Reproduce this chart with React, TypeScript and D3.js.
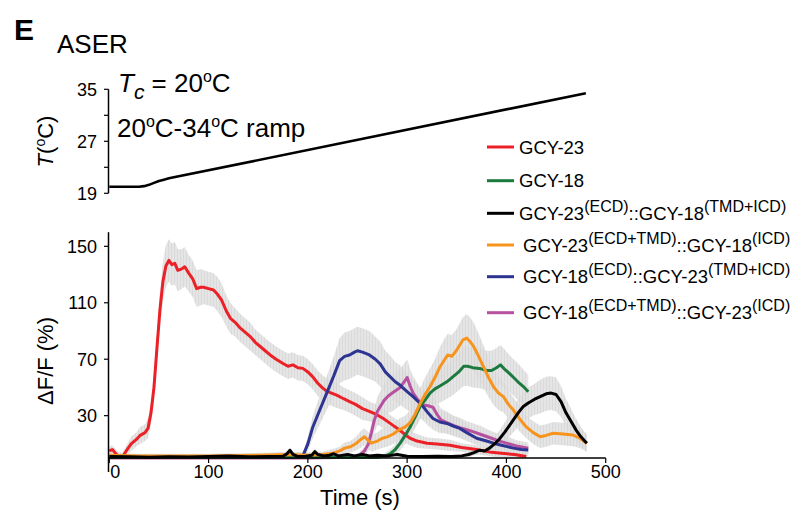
import React from "react";
import * as d3 from "d3";

// ---- data: [time (s), mean ΔF/F (%), SEM] ----
const gcy23: [number, number, number][] = [
  [0,5,3],[3,6,3],[8,2,3],[13,0.5,3],[18,6,4],[22,10,5],[27,13,5],[31,16,6],[36,18,6],[39,21,7],[42,32,8],[45,50,9],[48,78,10],[51,105,12],[54,125,14],[57,136,15],[60,140,15],[63,137,15],[66,138,15],[69,133,15],[73,134,14],[76,135.5,14],[80,131,13],[84,127,13],[88,120,13],[92,121,13],[95,121,12],[100,120,12],[105,119,12],[109,116,12],[113,112,12],[118,104,11],[122,99,11],[127,96,10],[132,92,10],[137,89,10],[142,86,10],[147,82,9],[152,79,9],[157,76,9],[162,73,9],[168,70,9],[175,67,9],[180,65,9],[185,66,9],[190,64,9],[195,63.5,9],[200,61,9],[205,57.5,9],[210,53,9],[215,49.5,9],[220,47,9],[229,44.5,9],[236,42,8],[242,40,8],[248,38,8],[255,35,8],[262,33,7],[270,30.5,7],[276,28,7],[284,24,6],[292,20,6],[298,16.5,6],[303,14,5],[310,12,5],[320,10.5,4],[330,10,4],[343,9,4],[355,7.5,3],[370,6,3],[385,4,3],[395,3.3,3],[408,2.5,3],[420,1,3]
];
const gcy18: [number, number, number][] = [
  [0,0.5,1],[100,0.5,1],[200,0.5,1],[270,0.5,1],[278,1.5,2],[283,3,3],[288,6,4],[293,10.5,5],[298,16,6],[303,22,7],[308,29,8],[313,36.5,9],[318,41,10],[323,46,11],[328,49,11],[333,51,12],[340,54,12],[346,57.5,13],[352,61,13],[357,65,14],[361,65,14],[366,64,14],[373,63.5,14],[380,62,14],[385,62,14],[390,64,14],[394,66,14],[398,63,14],[403,60,13],[408,56.5,13],[413,53,13],[418,50,12],[422,47,12]
];
const chimEcd23Tmd18: [number, number, number][] = [
  [0,1,1],[20,0.8,1],[40,0.6,1],[60,0.8,1],[80,0.7,1],[100,1,1],[120,1.5,1],[140,0.8,1],[160,1,1],[175,1.2,1],[179,3,2],[182,5.5,2],[185,2.5,2],[190,1,1],[198,1.2,1],[204,2,2],[207,4.5,2],[210,2.5,2],[216,1.5,1],[222,2,1],[226,3,2],[231,1.5,1],[240,2.5,1],[247,1.5,1],[255,2.5,2],[262,1.5,1],[270,2,1],[280,1.5,1],[290,2.5,1],[300,1.2,1],[315,1,1],[330,1.3,1],[345,1,1],[355,1.5,1],[362,2.5,2],[368,4,2],[373,5.5,3],[378,5,3],[383,7,4],[388,10,5],[393,13.5,6],[398,18,7],[403,23,8],[408,28,9],[413,33,10],[417,36.5,10],[422,39,11],[428,41.5,11],[434,43.5,12],[440,45.5,12],[445,46,12],[450,45,12],[455,40,11],[460,32,10],[465,26,9],[470,20,8],[475,15,7],[481,10.5,6]
];
const chimEcdTmd23Icd18: [number, number, number][] = [
  [0,2,1.5],[30,1.5,1.5],[60,1.5,1.5],[100,1.5,1.5],[150,2,1.5],[180,2.5,2],[200,2,2],[215,2.5,2],[225,3.3,3],[232,5,3],[237,7,4],[243,8,4],[249,10.5,5],[253,13,6],[257,15,6],[260,13,6],[264,10.5,6],[270,12,6],[275,14,7],[280,15,7],[286,17,7],[292,20,8],[298,22,8],[303,25,9],[308,31,10],[313,38.5,11],[318,45,12],[323,50.5,13],[328,57,13],[333,64.5,14],[338,70,15],[341,73,15],[345,72,15],[350,76.5,15],[356,83.5,16],[360,85,17],[364,82,17],[367,79,17],[372,72,16],[377,64.5,15],[382,57,14],[387,50.5,13],[392,46,12],[397,43.5,11],[402,38,10],[407,34,9],[413,28,9],[420,22,8],[427,18,8],[434,15,8],[440,16,8],[447,17.5,8],[457,17,8],[467,16.3,8],[474,14,7],[481,10.5,6]
];
const chimEcd18Tmd23: [number, number, number][] = [
  [0,0.5,1],[50,0.5,1],[100,0.5,1],[150,0.5,1],[190,0.5,1],[195,1.5,2],[200,10,5],[205,22,8],[212,34,10],[219,46,12],[226,58,14],[232,69,16],[237,72,17],[242,73,17],[247,75,17],[250,76,17],[255,75,17],[262,73,17],[268,70,16],[273,66.5,16],[278,61,15],[283,57.5,15],[288,54,14],[293,51.5,14],[300,47,13],[306,43.5,12],[311,40,11],[316,36.5,10],[321,32,9],[326,28,8],[333,25.5,8],[340,24.5,7],[347,22.5,7],[353,21,7],[360,18,6],[370,14,5],[380,12,5],[387,10.5,5],[395,9,5],[407,7,4],[415,6,4],[422,5.7,4]
];
const chimEcdTmd18Icd23: [number, number, number][] = [
  [0,0,1],[100,0,1],[200,0,1],[245,0.5,1],[252,2,2],[257,5,3],[261,10,5],[264,18,7],[267,27,9],[270,33,10],[273,36.5,11],[277,41,12],[281,44,12],[285,46,13],[289,48,13],[293,50,13],[297,54,13],[300,57,13],[303,51,12],[306,46,12],[311,41,11],[316,37.5,10],[321,37,10],[326,36,9],[330,31,9],[334,27,8],[340,25,8],[347,23,7],[353,21.5,7],[360,20,6],[367,18.5,6],[375,16.5,6],[385,14,5],[393,12,5],[400,10.5,5],[410,8.5,4],[422,7,4]
];

// temperature ramp
const tempTime = [0, 20, 30, 35, 40, 45, 50, 55, 60, 480];
const tempValue = [20, 20, 20, 20.1, 20.3, 20.6, 20.9, 21.1, 21.3, 34.4];

const xTicks = [0, 100, 200, 300, 400, 500];
const yTicks = [30, 70, 110, 150];
const tTicksLabeled = [19, 27, 35];
const tTicksAll = [19, 23, 27, 31, 35];

type Part = { t: string; sup?: boolean };
const legendLabels: Part[][] = [
  [{ t: "GCY-23" }],
  [{ t: "GCY-18" }],
  [{ t: "GCY-23" }, { t: "(ECD)", sup: true }, { t: "::GCY-18" }, { t: "(TMD+ICD)", sup: true }],
  [{ t: "GCY-23" }, { t: "(ECD+TMD)", sup: true }, { t: "::GCY-18" }, { t: "(ICD)", sup: true }],
  [{ t: "GCY-18" }, { t: "(ECD)", sup: true }, { t: "::GCY-23" }, { t: "(TMD+ICD)", sup: true }],
  [{ t: "GCY-18" }, { t: "(ECD+TMD)", sup: true }, { t: "::GCY-23" }, { t: "(ICD)", sup: true }],
];
const seriesData = [gcy23, gcy18, chimEcd23Tmd18, chimEcdTmd23Icd18, chimEcd18Tmd23, chimEcdTmd18Icd23];
const seriesColors = ["#ec2027", "#1c7a3f", "#000000", "#f7941e", "#2d3491", "#b6509f"];
const drawOrder = [0, 5, 4, 1, 3, 2];

const FONT = "'Liberation Sans', Arial, Helvetica, sans-serif";

export default function App() {
  const x = d3.scaleLinear().domain([0, 500]).range([109.3, 605.7]);
  const y = d3.scaleLinear().domain([0, 160]).range([458, 232.2]);
  const yT = d3.scaleLinear().domain([19, 35]).range([193.3, 89.3]);

  const line = d3
    .line<[number, number, number]>()
    .x((d) => x(d[0]))
    .y((d) => y(d[1]));
  const area = d3
    .area<[number, number, number]>()
    .x((d) => x(d[0]))
    .y0((d) => y(Math.max(0, d[1] - d[2])))
    .y1((d) => y(d[1] + d[2]));
  const tempLine = d3
    .line<number>()
    .x((_, i) => x(tempTime[i]))
    .y((d) => yT(d));

  const legendLineY = [147, 180.7, 213.3, 245, 276.7, 312.7];
  const legendTextX = [519, 519, 519, 523, 523, 523];

  const axisX0 = 108.5;

  return (
    <svg
      width={792}
      height={518}
      style={{ position: "absolute", left: 0, top: 0, background: "#fff" }}
      fontFamily={FONT}
    >
      <defs>
        <pattern id="sem" width={3} height={6} patternUnits="userSpaceOnUse">
          <rect width={3} height={6} fill="#e0e0e0" />
          <rect width={1} height={6} fill="#d4d4d4" />
        </pattern>
      </defs>

      {/* Titles */}
      <text x={14} y={40} fontSize={30} fontWeight="bold">E</text>
      <text x={57} y={53} fontSize={26}>ASER</text>
      <text x={118} y={92} fontSize={26}>
        <tspan fontStyle="italic">T</tspan>
        <tspan fontStyle="italic" fontSize={21} dy={7}>c</tspan>
        <tspan dy={-7}> = 20</tspan>
        <tspan fontSize={16} dy={-10}>o</tspan>
        <tspan dy={10}>C</tspan>
      </text>
      <text x={117} y={137} fontSize={26}>
        <tspan>20</tspan>
        <tspan fontSize={16} dy={-10}>o</tspan>
        <tspan dy={10}>C-34</tspan>
        <tspan fontSize={16} dy={-10}>o</tspan>
        <tspan dy={10}>C ramp</tspan>
      </text>

      {/* Temperature panel */}
      <line x1={axisX0} x2={axisX0} y1={yT(35)} y2={yT(19)} stroke="#000" strokeWidth={1.5} />
      {tTicksAll.map((t) => (
        <line key={t} x1={axisX0 - 4.5} x2={axisX0} y1={yT(t)} y2={yT(t)} stroke="#000" strokeWidth={1.2} />
      ))}
      {tTicksLabeled.map((t) => (
        <text key={t} x={97} y={yT(t)} dy="0.35em" textAnchor="end" fontSize={18}>{t}</text>
      ))}
      <text transform={`translate(53,141.5) rotate(-90)`} textAnchor="middle" fontSize={22}>
        <tspan fontStyle="italic">T</tspan>
        <tspan>(</tspan>
        <tspan fontSize={14} dy={-8}>o</tspan>
        <tspan dy={8}>C)</tspan>
      </text>
      <path d={tempLine(tempValue) || ""} fill="none" stroke="#000" strokeWidth={2.6} strokeLinejoin="round" />

      {/* Calcium panel: SEM bands */}
      {drawOrder.map((i) => (
        <path key={"b" + i} d={area(seriesData[i]) || ""} fill="url(#sem)" opacity={0.85} />
      ))}
      {/* mean lines */}
      {drawOrder.map((i) => (
        <path
          key={"l" + i}
          d={line(seriesData[i]) || ""}
          fill="none"
          stroke={seriesColors[i]}
          strokeWidth={3}
          strokeLinejoin="round"
        />
      ))}

      {/* axes */}
      <line x1={axisX0} x2={axisX0} y1={y(160)} y2={472} stroke="#000" strokeWidth={1.5} />
      {yTicks.map((t) => (
        <g key={t}>
          <line x1={axisX0 - 4.5} x2={axisX0} y1={y(t)} y2={y(t)} stroke="#000" strokeWidth={1.2} />
          <text x={97} y={y(t)} dy="0.35em" textAnchor="end" fontSize={18}>{t}</text>
        </g>
      ))}
      <line x1={axisX0} x2={x(500)} y1={y(0)} y2={y(0)} stroke="#000" strokeWidth={1.5} />
      {xTicks.map((t, i) => (
        <g key={t}>
          <line x1={x(t)} x2={x(t)} y1={y(0)} y2={y(0) + 5} stroke="#000" strokeWidth={1.2} />
          <text x={x(t) + (i === 0 ? 6 : 0)} y={478} textAnchor="middle" fontSize={18}>{t}</text>
        </g>
      ))}
      <text x={360} y={505} textAnchor="middle" fontSize={22}>Time (s)</text>
      <text transform={`translate(53,361) rotate(-90)`} textAnchor="middle" fontSize={22}>
        ΔF/F (%)
      </text>

      {/* legend */}
      {legendLabels.map((parts, i) => (
        <g key={"lg" + i}>
          <line
            x1={487}
            x2={514}
            y1={legendLineY[i]}
            y2={legendLineY[i]}
            stroke={seriesColors[i]}
            strokeWidth={3}
          />
          <text x={legendTextX[i]} y={legendLineY[i] + 6.5} fontSize={18.5}>
            {parts.map((p, j) => {
              const prevSup = j > 0 && parts[j - 1].sup;
              return (
                <tspan
                  key={j}
                  fontSize={p.sup ? 16 : 18.5}
                  dy={p.sup ? -8 : prevSup ? 8 : 0}
                >
                  {p.t}
                </tspan>
              );
            })}
          </text>
        </g>
      ))}
    </svg>
  );
}
